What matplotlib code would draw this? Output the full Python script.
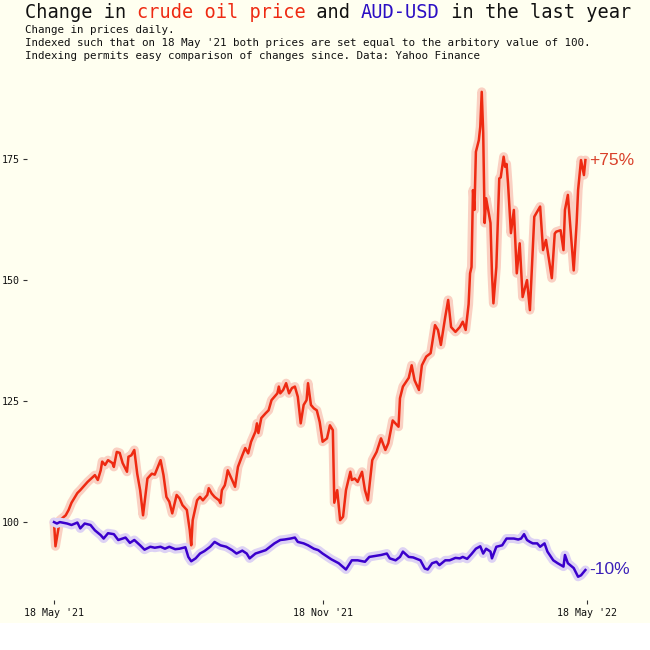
import pandas as pd
import numpy as np
import matplotlib.pyplot as plt
from matplotlib.patches import Rectangle

# --- dados (dias desde 18 May '21, índice = 100 no início) ---
oil_days = [0, 1, 4, 8, 10, 12, 16, 18, 21, 23, 28, 30, 32, 33, 35, 37, 40, 41, 43, 45,
            47, 50, 51, 53, 55, 57, 59, 61, 64, 67, 69, 73, 75, 77, 79, 81, 84, 86, 88, 91,
            93, 94, 95, 98, 100, 102, 105, 106, 108, 110, 113, 114, 115, 117, 118, 119, 122, 124, 126, 129,
            131, 133, 135, 138, 139, 140, 142, 145, 147, 149, 151, 153, 154, 155, 157, 159, 161, 163, 165, 167,
            169, 171, 173, 174, 176, 178, 180, 182, 184, 187, 189, 191, 192, 194, 196, 198, 200, 203, 204, 206,
            208, 211, 213, 215, 218, 221, 224, 227, 229, 232, 236, 237, 239, 243, 245, 247, 250, 252, 255, 258,
            261, 263, 265, 268, 270, 272, 275, 278, 280, 282, 284, 285, 286, 287, 288, 289, 291, 292, 293, 294,
            295, 296, 299, 300, 301, 303, 305, 306, 308, 309, 310, 311, 313, 315, 317, 319, 321, 324, 326, 329,
            333, 335, 337, 341, 343, 344, 347, 349, 350, 352, 356, 358, 359, 361, 363, 364]
oil_vals = [100, 95.0, 100.4, 101.4, 102.5, 104.0, 106.0, 106.6, 107.6, 108.3, 109.7, 108.7, 110.7, 112.5, 111.8, 112.8, 112.2, 111.4, 114.5, 114.3,
            112.2, 110.4, 113.5, 113.8, 114.9, 110.0, 106.6, 101.4, 109.0, 110.0, 109.8, 112.8, 109.7, 105.2, 104.2, 101.8, 105.6, 104.9, 103.5, 102.5,
            98.3, 95.2, 100.4, 104.5, 105.2, 104.5, 105.6, 107.0, 105.9, 105.2, 104.5, 103.9, 106.6, 107.6, 109.0, 110.7, 108.7, 107.3, 111.4, 113.8,
            115.3, 114.2, 116.6, 118.7, 120.4, 118.4, 121.5, 122.5, 123.1, 125.2, 125.9, 126.6, 128.0, 126.6, 127.3, 128.7, 126.6, 127.7, 128.0, 125.9,
            120.4, 124.2, 125.2, 128.7, 124.2, 123.5, 123.1, 120.7, 116.6, 117.3, 120.0, 119.0, 104.0, 106.6, 100.4, 101.1, 106.6, 110.4, 108.7, 109.0,
            108.3, 110.4, 106.6, 104.5, 112.8, 114.5, 117.3, 114.9, 116.3, 121.0, 119.7, 125.6, 128.0, 129.8, 132.4, 129.3, 127.3, 132.4, 134.2, 134.9,
            140.7, 139.7, 136.6, 142.4, 145.9, 140.3, 139.3, 140.3, 141.4, 139.7, 145.0, 151.4, 152.7, 168.6, 164.5, 176.5, 178.9, 181.7, 188.9, 180.4,
            161.8, 166.9, 161.8, 151.4, 145.2, 152.7, 171.0, 171.2, 175.5, 173.4, 174.0, 170.0, 159.7, 164.5, 151.4, 157.6, 146.5, 150.0, 143.8, 163.1,
            165.2, 156.2, 158.3, 150.4, 159.6, 160.0, 160.3, 156.2, 164.5, 167.6, 152.0, 161.8, 168.6, 174.8, 171.7, 174.8]

aud_days = [0, 2, 4, 9, 12, 16, 18, 21, 25, 28, 32, 34, 37, 41, 44, 49, 52, 55, 59, 62,
            66, 69, 73, 76, 79, 83, 86, 90, 92, 94, 97, 100, 103, 107, 110, 114, 118, 122, 125, 129,
            132, 134, 138, 141, 145, 148, 151, 155, 158, 162, 165, 167, 171, 174, 178, 181, 184, 190, 195, 200,
            204, 208, 213, 216, 220, 224, 228, 230, 234, 237, 239, 243, 246, 251, 254, 256, 259, 262, 264, 268,
            271, 275, 278, 280, 283, 286, 289, 292, 294, 296, 299, 300, 303, 307, 310, 315, 318, 320, 322, 324,
            326, 328, 331, 333, 336, 338, 342, 345, 349, 350, 352, 356, 359, 361, 364]
aud_vals = [100, 99.7, 100.0, 99.7, 99.4, 99.9, 98.7, 99.7, 99.4, 98.3, 97.3, 96.6, 97.7, 97.5, 96.3, 96.8, 95.7, 96.3, 95.2, 94.3,
            94.9, 94.7, 94.9, 94.5, 94.9, 94.4, 94.5, 94.8, 92.8, 91.9, 92.5, 93.5, 94.0, 94.9, 95.9, 95.2, 94.9, 94.2, 93.5, 94.1,
            93.5, 92.5, 93.5, 93.8, 94.2, 94.9, 95.6, 96.3, 96.4, 96.6, 96.8, 95.9, 95.6, 95.2, 94.5, 94.2, 93.5, 92.3, 91.5, 90.2,
            92.1, 92.1, 91.8, 92.8, 93.0, 93.2, 93.5, 92.5, 92.1, 92.8, 93.9, 92.8, 92.7, 92.1, 90.4, 90.2, 91.5, 91.8, 91.1, 92.1,
            92.1, 92.6, 92.5, 92.8, 92.4, 93.4, 94.5, 95.0, 93.5, 94.5, 93.9, 92.5, 94.9, 95.2, 96.6, 96.6, 96.4, 96.6, 97.5, 96.3,
            95.9, 95.6, 95.6, 94.9, 95.6, 93.9, 92.1, 91.5, 90.8, 93.2, 91.5, 90.5, 88.7, 89.0, 90.1]

tick_dates = ['2021-05-18', '2021-11-18', '2022-05-18']
tick_labels = ["18 May '21", "18 Nov '21", "18 May '22"]
oil_label = '+75%'
aud_label = '-10%'

BG = '#FFFFF0'
RED = '#EE2A12'
RED_GLOW = '#FAD0C2'
BLUE = '#3A00CC'
BLUE_GLOW = '#DDD2F4'
MONO = 'DejaVu Sans Mono'

start = pd.Timestamp('2021-05-18')
oil_x = start + pd.to_timedelta(oil_days, unit='D')
aud_x = start + pd.to_timedelta(aud_days, unit='D')

fig = plt.figure(figsize=(6.5, 6.5), dpi=100, facecolor='white')
# fundo marfim (a faixa de baixo fica branca)
fig.patches.append(Rectangle((0, 27 / 650), 1, 1, transform=fig.transFigure,
                             facecolor=BG, edgecolor='none', zorder=-10))

ax = fig.add_axes([27 / 650, 50 / 650, 587 / 650, 528 / 650])
ax.set_facecolor(BG)

ax.plot(oil_x, oil_vals, color=RED_GLOW, lw=6.5, solid_capstyle='round', solid_joinstyle='round')
ax.plot(oil_x, oil_vals, color=RED, lw=1.8, solid_joinstyle='round')
ax.plot(aud_x, aud_vals, color=BLUE_GLOW, lw=6.5, solid_capstyle='round', solid_joinstyle='round')
ax.plot(aud_x, aud_vals, color=BLUE, lw=1.8, solid_joinstyle='round')

ax.annotate(oil_label, (oil_x[-1], oil_vals[-1]), xytext=(3, 0), textcoords='offset points',
            va='center', ha='left', fontsize=12.5, color='#D9402A', family='Liberation Sans')
ax.annotate(aud_label, (aud_x[-1], aud_vals[-1]), xytext=(3, 0), textcoords='offset points',
            va='center', ha='left', fontsize=12.5, color='#3A1FB8', family='Liberation Sans')

ax.set_xlim(start - pd.Timedelta(days=18.5), start + pd.Timedelta(days=383.6))
ax.set_ylim(83.9, 193)
ax.set_yticks([100, 125, 150, 175])
ax.set_xticks(pd.to_datetime(tick_dates))
ax.set_xticklabels(tick_labels)
for s in ax.spines.values():
    s.set_visible(False)
ax.tick_params(axis='both', length=3, width=0.8, color='#333333', labelsize=7.2,
               labelcolor='#111111', pad=2)
for lab in ax.get_xticklabels() + ax.get_yticklabels():
    lab.set_family(MONO)
ax.tick_params(axis='x', pad=3)

# título com palavras coloridas (fonte monoespaçada -> largura fixa por caractere)
title_parts = [('Change in ', '#111111'), ('crude oil price', RED), (' and ', '#111111'),
               ('AUD-USD', '#2B0FC4'), (' in the last year', '#111111')]
fs = 13.4
char_w = 0.602 * fs / 72 * 100 / 650
x0 = 25 / 650
for txt, col in title_parts:
    fig.text(x0, 1 - 12 / 650, txt, color=col, fontsize=fs, family=MONO, va='center', ha='left')
    x0 += len(txt) * char_w

sub_lines = ['Change in prices daily.',
             "Indexed such that on 18 May '21 both prices are set equal to the arbitory value of 100.",
             'Indexing permits easy comparison of changes since. Data: Yahoo Finance']
for i, line in enumerate(sub_lines):
    fig.text(25 / 650, 1 - (30 + 13 * i) / 650, line, fontsize=7.8, family=MONO,
             color='#111111', va='center', ha='left')

fig.savefig('out.png', dpi=100, facecolor=fig.get_facecolor())
